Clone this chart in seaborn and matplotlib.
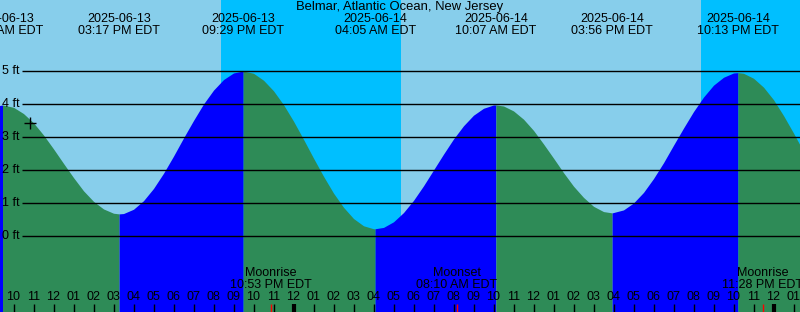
import numpy as np
import pandas as pd
import matplotlib
matplotlib.use("Agg")
import matplotlib.pyplot as plt
import seaborn as sns

# hours since 2025-06-13 10:00 AM EDT, tide height read every half hour (ft)
hours = [-1, -0.55, 0, 0.5, 1, 1.5, 2, 2.5, 3, 3.5, 4, 4.5, 5, 5.28, 5.5, 6, 6.5, 7, 7.5,
         8, 8.5, 9, 9.5, 10, 10.5, 11, 11.48, 12, 12.5, 13, 13.5, 14, 14.5, 15, 15.5,
         16, 16.5, 17, 17.5, 18, 18.08, 18.5, 19, 19.5, 20, 20.5, 21, 21.5, 22, 22.5,
         23, 23.5, 24, 24.12, 24.5, 25, 25.5, 26, 26.5, 27, 27.5, 28, 28.5, 29, 29.5,
         29.93, 30.5, 31, 31.5, 32, 32.5, 33, 33.5, 34, 34.5, 35, 35.5, 36, 36.22,
         36.5, 37, 37.5, 38, 38.5, 39, 39.5, 40]
heights = [3.92, 3.97, 3.90, 3.71, 3.43, 3.06, 2.64, 2.20, 1.77, 1.37, 1.05, 0.82, 0.69,
           0.67, 0.68, 0.81, 1.07, 1.44, 1.90, 2.42, 2.97, 3.50, 4.00, 4.42, 4.74, 4.94,
           5.00, 4.93, 4.72, 4.40, 3.98, 3.48, 2.93, 2.36, 1.81, 1.30, 0.87, 0.53, 0.31,
           0.22, 0.22, 0.26, 0.43, 0.71, 1.08, 1.52, 2.00, 2.48, 2.94, 3.34, 3.66, 3.87,
           3.97, 3.97, 3.94, 3.79, 3.54, 3.20, 2.79, 2.36, 1.92, 1.51, 1.17, 0.90, 0.74,
           0.70, 0.79, 1.00, 1.32, 1.74, 2.22, 2.75, 3.27, 3.77, 4.21, 4.57, 4.81, 4.94,
           4.95, 4.93, 4.78, 4.51, 4.13, 3.65, 3.12, 2.56, 2.01]

# high / low tide events
event_hours = [-0.55, 5.28, 11.48, 18.08, 24.12, 29.93, 36.22]
event_dates = ["2025-06-13", "2025-06-13", "2025-06-13", "2025-06-14",
               "2025-06-14", "2025-06-14", "2025-06-14"]
event_times = ["09:27 AM EDT", "03:17 PM EDT", "09:29 PM EDT", "04:05 AM EDT",
               "10:07 AM EDT", "03:56 PM EDT", "10:13 PM EDT"]

# moon events
moon_hours = [12.88, 22.17, 37.47]
moon_kind = ["Moonrise", "Moonset", "Moonrise"]
moon_times = ["10:53 PM EDT", "08:10 AM EDT", "11:28 PM EDT"]

# night
night_start = [10.375, 34.375]
night_end = [19.375, 40]

midnights = [14, 38]
hour_labels = ["10", "11", "12", "01", "02", "03", "04", "05", "06", "07", "08", "09",
               "10", "11", "12", "01", "02", "03", "04", "05", "06", "07", "08", "09",
               "10", "11", "12", "01", "02", "03", "04", "05", "06", "07", "08", "09",
               "10", "11", "12", "01"]
ft_levels = [0, 1, 2, 3, 4, 5]

current_hour = 0.825
current_height = 3.42

title = "Belmar, Atlantic Ocean, New Jersey"

df = pd.DataFrame({"hour": hours, "height": heights})

sns.set_theme(style="white")
plt.rcParams["font.family"] = ["Liberation Sans", "DejaVu Sans"]
plt.rcParams["text.color"] = "black"


def py(y):
    # pixel row -> feet
    return (236 - y) / 33


fig = plt.figure(figsize=(8, 3.12), dpi=100)
ax = fig.add_axes([0, 0, 1, 1])
x0, x1 = -0.675, 39.325
ax.set_xlim(x0, x1)
ax.set_ylim(py(312), py(0))
ax.axis("off")

# day / night background
ax.axvspan(x0, x1, color="#87CEEB", zorder=0, lw=0)
for s, e in zip(night_start, night_end):
    ax.axvspan(s, e, color="#00BFFF", zorder=0.5, lw=0)

# tide fill: rising blue, falling green
bounds = [hours[0]] + event_hours + [hours[-1]]
for a, b in zip(bounds[:-1], bounds[1:]):
    seg = df[(df.hour >= a) & (df.hour <= b)]
    rising = seg.height.iloc[-1] > seg.height.iloc[0]
    ax.fill_between(seg.hour, seg.height, py(312), color="#0000FF" if rising else "#2E8B57",
                    lw=0, zorder=1)

# feet lines
ax.hlines(ft_levels, (22 - 13.5) / 20, x1, color="black", lw=1, zorder=2)
for f in ft_levels:
    ax.text(-0.575, f, f"{f} ft", ha="left", va="center", fontsize=9, zorder=3)

# title and tide labels
ax.text((x0 + x1) / 2, py(7), title, ha="center", va="center", fontsize=9.4)
for h, d, t in zip(event_hours, event_dates, event_times):
    ax.text(h, py(19), d, ha="center", va="center", fontsize=9)
    ax.text(h, py(31), t, ha="center", va="center", fontsize=9)

# hour ticks
for i, lab in enumerate(hour_labels):
    ax.text(i, py(297.5), lab, ha="center", va="center", fontsize=9, zorder=3)
ax.vlines(range(len(hour_labels)), py(312), py(304), color="black", lw=1, zorder=3)
ax.vlines(midnights, py(312), py(304), color="black", lw=3, zorder=3)
ax.vlines(moon_hours, py(312), py(304), color="red", lw=1, zorder=3)

# moon labels
for h, k, t in zip(moon_hours, moon_kind, moon_times):
    ax.text(h, py(273.5), k, ha="center", va="center", fontsize=9, zorder=3)
    ax.text(h, py(285.5), t, ha="center", va="center", fontsize=9, zorder=3)

# current time marker
ax.plot([current_hour], [current_height], marker="+", color="black", ms=9, mew=1, zorder=4)

fig.savefig("out.png", dpi=100)
